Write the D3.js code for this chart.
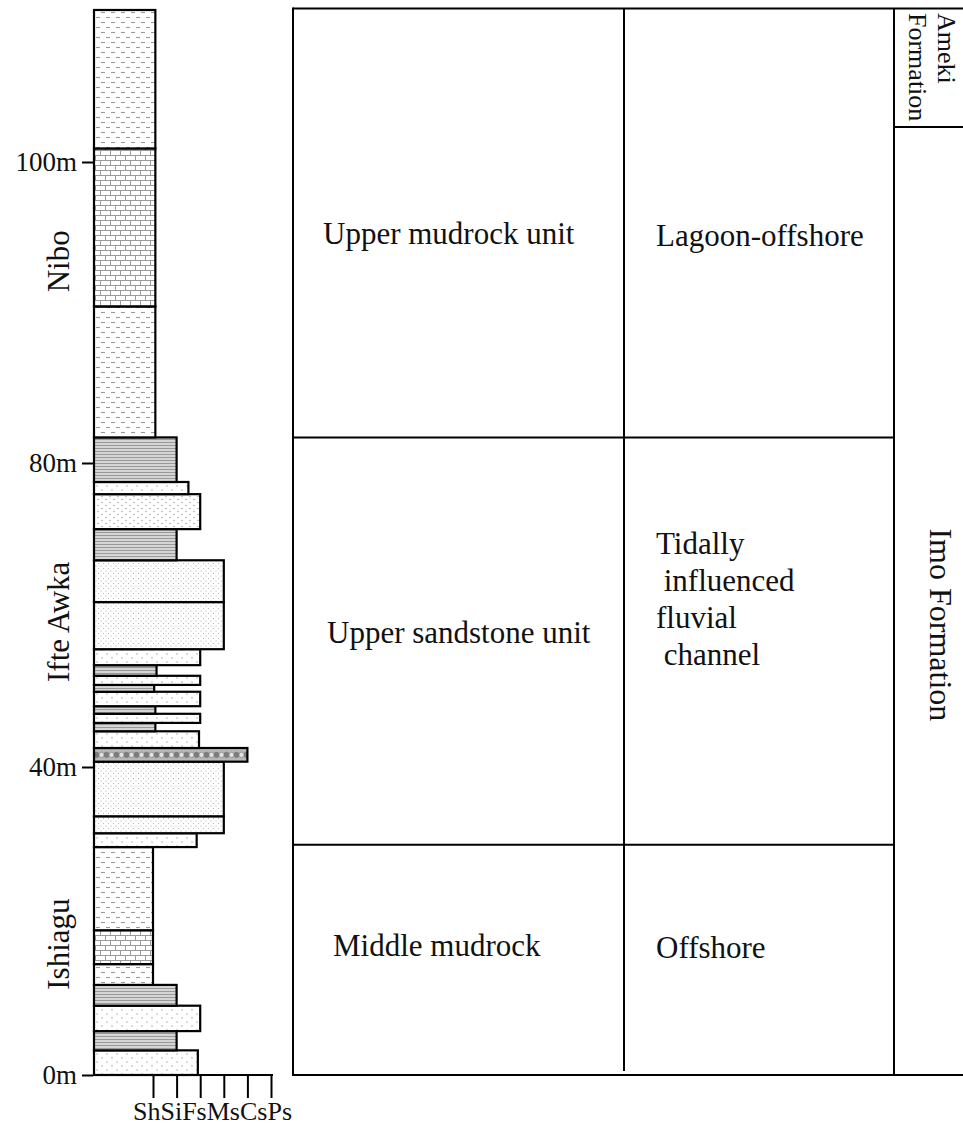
<!DOCTYPE html>
<html>
<head>
<meta charset="utf-8">
<script src="https://cdn.jsdelivr.net/npm/d3@7"></script>
<style>
  body { margin: 0; background: #fff; }
  svg text { font-family: "Liberation Serif", "Times New Roman", serif; fill: #111; white-space: pre; }
</style>
</head>
<body>
<div class="log-chart"></div>
<script>
// depth ticks (the log is not drawn to one scale, the ticks pin it)
var depthTicks = [0, 40, 80, 100];
var depthLabels = ["0m", "40m", "80m", "100m"];
var grainLabels = ["Sh", "Si", "Fs", "Ms", "Cs", "Ps"];

// beds, bottom to top (m)
var bedBase = [0, 3.2, 5.7, 9.0, 11.7, 14.4, 18.8, 29.6, 31.4, 33.6, 40.7, 42.5, 44.7, 45.8, 47.0, 48.0, 49.9, 50.8, 52.0, 53.4, 55.5, 61.7, 67.2, 71.3, 75.9, 77.5, 81.7, 90.4, 100.9];
var bedTop  = [3.2, 5.7, 9.0, 11.7, 14.4, 18.8, 29.6, 31.4, 33.6, 40.7, 42.5, 44.7, 45.8, 47.0, 48.0, 49.9, 50.8, 52.0, 53.4, 55.5, 61.7, 67.2, 71.3, 75.9, 77.5, 81.7, 90.4, 100.9, 110.1];
var bedLith = ["sand", "shale", "sand", "shale", "mud", "lime", "mud", "sand", "fine", "fine", "cong", "sand", "shale", "sand", "shale", "sand", "shale", "sand", "shale", "sand", "fine", "fine", "shale", "sand2", "sand", "shale", "mud", "lime", "mud"];
// grain size index: 0 = Sh ... 5 = Ps
var bedGrain = [1.9, 1, 2, 1, 0, 0, 0, 1.85, 3, 3, 4, 1.95, 0.1, 2, 0.1, 2, 0.05, 2, 0.15, 2, 3, 3, 1, 2, 1.5, 1, 0.1, 0.1, 0.1];

// formations on the left of the log
var formationNames = ["Ishiagu", "Ifte Awka", "Nibo"];
var formationMid = [17, 59.1, 93.4];

// units of the table
var unitBase = [0, 29.9, 81.7];
var unitTop = [29.9, 81.7, 110.2];
var unitNames = ["Middle mudrock", "Upper sandstone unit", "Upper mudrock unit"];
var envNames = [["Offshore"], ["Tidally", " influenced", "fluvial", " channel"], ["Lagoon-offshore"]];

var width = 963, height = 1126;
var colLeft = 94;

var svg = d3.select(".log-chart").append("svg")
  .attr("width", width)
  .attr("height", height);

var y = d3.scaleLinear()
  .domain([0, 40, 80, 100])
  .range([1075, 767, 463, 162]);

var x = d3.scaleLinear()
  .domain([0, 5])
  .range([153, 271]);

// ---- patterns
var defs = svg.append("defs");

function pattern(id, w, h) {
  var p = defs.append("pattern").attr("id", id)
    .attr("patternUnits", "userSpaceOnUse")
    .attr("width", w).attr("height", h);
  p.append("rect").attr("width", w).attr("height", h).style("fill", "#fff");
  return p;
}

var mud = pattern("mud", 10, 10);
mud.selectAll("line").data([[1, 5, 2.5], [6, 10, 7.5]]).enter().append("line")
  .attr("x1", d => d[0]).attr("x2", d => d[1]).attr("y1", d => d[2]).attr("y2", d => d[2])
  .style("stroke", "#9a9a9a").style("stroke-width", 1.1);

var lime = pattern("lime", 10, 10);
lime.selectAll("path").data([
  "M0,0.5H10M0,5.5H10",
  "M0.5,0.5V5.5M5.5,5.5V10"
]).enter().append("path").attr("d", d => d)
  .style("stroke", "#9a9a9a").style("stroke-width", 1).style("fill", "none");

var shale = pattern("shale", 4, 3);
shale.select("rect").style("fill", "#e4e4e4");
shale.append("line").attr("x1", 0).attr("x2", 4).attr("y1", 1.5).attr("y2", 1.5)
  .style("stroke", "#999").style("stroke-width", 1.4);

var sand = pattern("sand", 10, 8);
sand.selectAll("circle").data([[2, 2], [7, 6]]).enter().append("circle")
  .attr("cx", d => d[0]).attr("cy", d => d[1]).attr("r", 0.7).style("fill", "#999");

var sand2 = pattern("sand2", 8, 6);
sand2.selectAll("circle").data([[2, 1.5], [6, 4.5]]).enter().append("circle")
  .attr("cx", d => d[0]).attr("cy", d => d[1]).attr("r", 0.7).style("fill", "#999");

var fine = pattern("fine", 5, 5);
fine.selectAll("circle").data([[1, 1], [3.5, 3.5]]).enter().append("circle")
  .attr("cx", d => d[0]).attr("cy", d => d[1]).attr("r", 0.55).style("fill", "#aaa");

var congIdx = bedLith.indexOf("cong");
var congH = y(bedBase[congIdx]) - y(bedTop[congIdx]);
var cong = pattern("cong", 10, congH)
  .attr("y", y(bedTop[congIdx])).attr("x", colLeft);
cong.select("rect").style("fill", "#b8b8b8");
cong.append("circle").attr("cx", 2.5).attr("cy", congH / 2).attr("r", 2.7)
  .style("fill", "#7c7c7c").style("stroke", "#666").style("stroke-width", 0.5);
cong.append("circle").attr("cx", 7.5).attr("cy", congH / 2).attr("r", 2.7)
  .style("fill", "#e2e2e2").style("stroke", "#777").style("stroke-width", 0.7);

var fills = { mud: "mud", lime: "lime", shale: "shale", sand: "sand", sand2: "sand2", fine: "fine", cong: "cong" };

// ---- beds
svg.append("g").attr("class", "beds")
  .selectAll("rect")
  .data(d3.range(bedBase.length))
  .enter().append("rect")
  .attr("x", colLeft)
  .attr("y", i => y(bedTop[i]))
  .attr("width", i => x(bedGrain[i]) - colLeft)
  .attr("height", i => y(bedBase[i]) - y(bedTop[i]))
  .style("fill", i => "url(#" + fills[bedLith[i]] + ")")
  .style("stroke", "#000")
  .style("stroke-width", 2.2);

// ---- depth axis
var yAxis = d3.axisLeft(y)
  .tickValues(depthTicks)
  .tickFormat((d, i) => depthLabels[i])
  .tickSize(11)
  .tickPadding(5);

var gy = svg.append("g")
  .attr("transform", "translate(" + (colLeft - 1) + ",0)")
  .call(yAxis);
gy.select(".domain").remove();
gy.selectAll("line").style("stroke", "#000").style("stroke-width", 2);
gy.selectAll("text")
  .style("font-family", "Liberation Serif, serif")
  .style("font-size", "27px")
  .style("fill", "#111");

// ---- grain size axis
var xAxis = d3.axisBottom(x)
  .tickValues(d3.range(grainLabels.length))
  .tickSize(23)
  .tickFormat("");

var gx = svg.append("g")
  .attr("transform", "translate(0," + y(0) + ")")
  .call(xAxis);
gx.select(".domain").remove();
gx.selectAll("line").style("stroke", "#000").style("stroke-width", 2);
gx.append("line")
  .attr("x1", colLeft - 1).attr("x2", x(5) + 2)
  .style("stroke", "#000").style("stroke-width", 2);

var grainText = svg.append("text")
  .attr("x", 133)
  .attr("y", y(0) + 45)
  .style("font-size", "26px");
grainText.selectAll("tspan")
  .data(grainLabels)
  .enter().append("tspan")
  .text(d => d);

// ---- formation names on the left
svg.append("g").selectAll("text")
  .data(formationNames)
  .enter().append("text")
  .attr("transform", (d, i) => "translate(69," + y(formationMid[i]) + ") rotate(-90)")
  .attr("text-anchor", "middle")
  .style("font-size", "31px")
  .text(d => d);

// ---- table
var tLeft = 293, tMid = 624, tRight = 894, tEnd = 963;
var tTop = y(unitTop[2]), tBot = y(0);
var lines = svg.append("g").attr("class", "table")
  .style("stroke", "#000").style("stroke-width", 2);

lines.append("line").attr("x1", tLeft).attr("x2", tEnd).attr("y1", tTop).attr("y2", tTop);
lines.append("line").attr("x1", tLeft).attr("x2", tEnd).attr("y1", tBot).attr("y2", tBot);
lines.append("line").attr("x1", tLeft).attr("x2", tLeft).attr("y1", tTop - 1).attr("y2", tBot + 1);
lines.append("line").attr("x1", tMid).attr("x2", tMid).attr("y1", tTop).attr("y2", tBot - 4);
lines.append("line").attr("x1", tRight).attr("x2", tRight).attr("y1", tTop).attr("y2", tBot);
lines.selectAll(".unit-line")
  .data(unitBase.slice(1))
  .enter().append("line").attr("class", "unit-line")
  .attr("x1", tLeft).attr("x2", tRight)
  .attr("y1", d => y(d)).attr("y2", d => y(d));
lines.append("line").attr("x1", tRight).attr("x2", tEnd).attr("y1", 127).attr("y2", 127);

var unitX = [333, 327, 323];
var unitY = [956, 643, 244];
svg.append("g").selectAll("text")
  .data(unitNames)
  .enter().append("text")
  .attr("x", (d, i) => unitX[i])
  .attr("y", (d, i) => unitY[i])
  .style("font-size", "31px")
  .text(d => d);

var envY = [958, 554, 246];
envNames.forEach(function(lns, i) {
  svg.append("g").selectAll("text")
    .data(lns)
    .enter().append("text")
    .attr("x", 656)
    .attr("y", (d, j) => envY[i] + j * 37)
    .style("font-size", "31px")
    .text(d => d);
});

// formation column on the right
svg.append("text")
  .attr("transform", "translate(938,13) rotate(90)")
  .style("font-size", "26px")
  .text("Ameki");
svg.append("text")
  .attr("transform", "translate(909,13) rotate(90)")
  .style("font-size", "26px")
  .text("Formation");
svg.append("text")
  .attr("transform", "translate(930," + y(58.7) + ") rotate(90)")
  .attr("text-anchor", "middle")
  .style("font-size", "32px")
  .text("Imo Formation");
</script>
</body>
</html>
